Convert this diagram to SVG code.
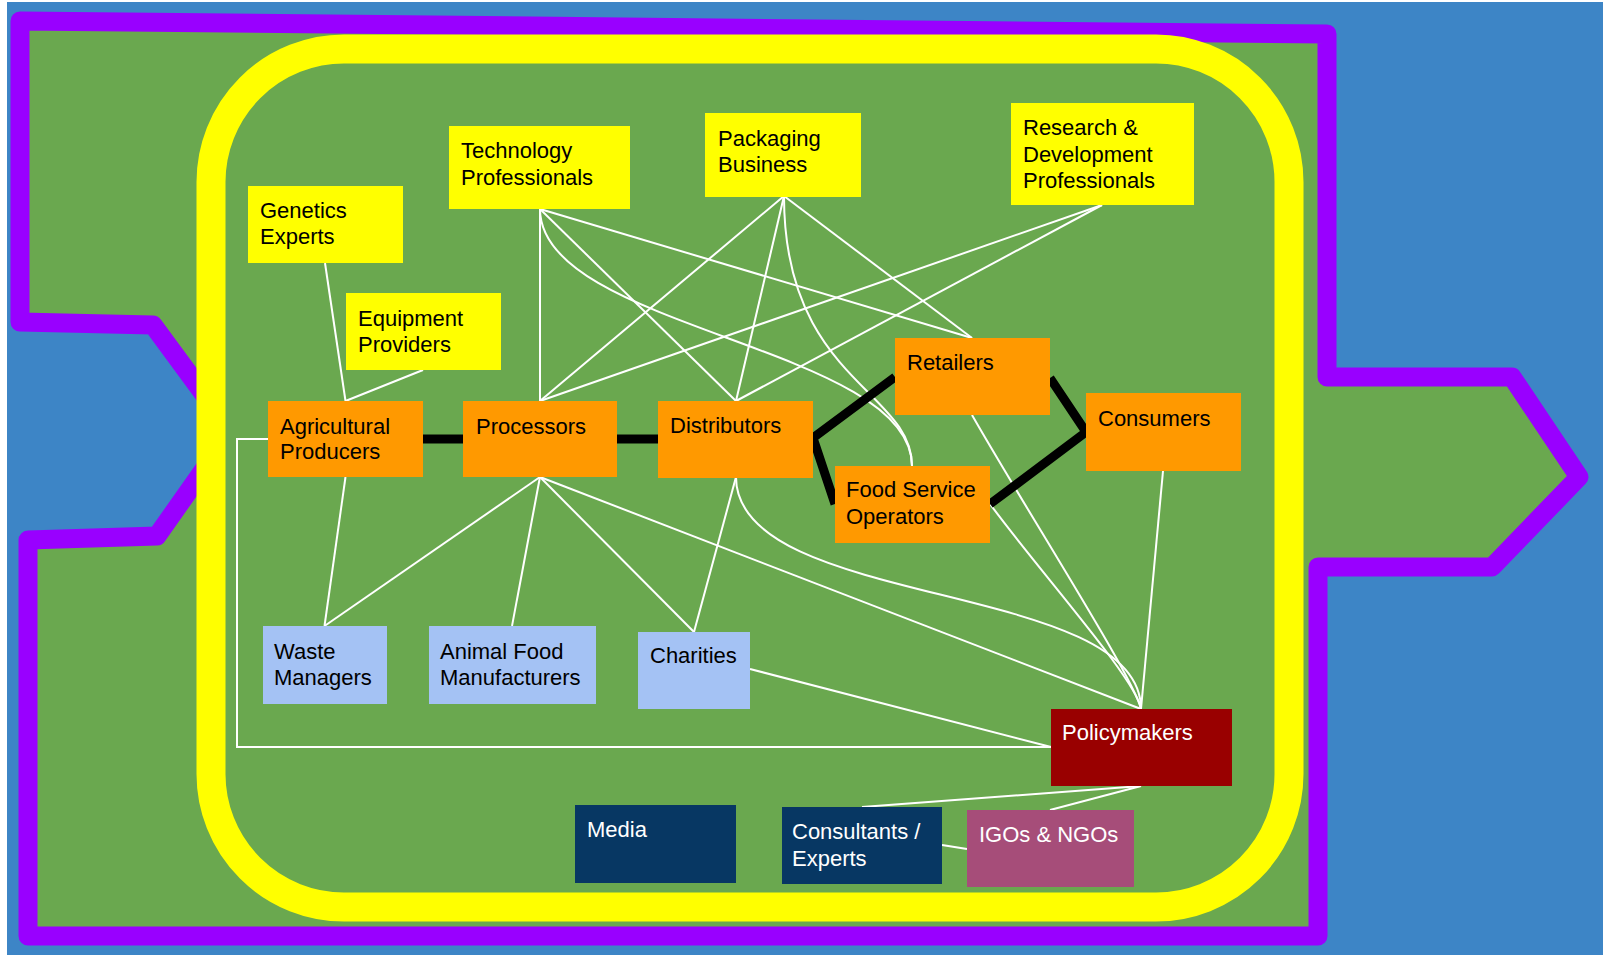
<svg xmlns="http://www.w3.org/2000/svg" width="1603" height="955" viewBox="0 0 1603 955">
<style>
.t{font-family:"Liberation Sans",Arial,sans-serif;font-size:22px;fill:#000}
.w{fill:#fff}
.c{fill:none;stroke:#fff;stroke-width:2}
.k{fill:none;stroke:#000;stroke-width:9;stroke-linejoin:miter}
.ye{fill:#ffff00}.or{fill:#ff9900}.lb{fill:#a4c2f4}.dr{fill:#990000}.nv{fill:#073763}.mv{fill:#a64d79}
</style>
<rect x="0" y="0" width="1603" height="955" fill="#ffffff"/>
<rect x="7" y="2" width="1596" height="953" fill="#3d85c6"/>
<polygon points="20,21 1327,34 1327,377 1512,377 1579,477 1492,567 1318,567 1318,936 28,936 28,540 157,536 231,431 153,325 20,322" fill="#6aa84f" stroke="#9900ff" stroke-width="19" stroke-linejoin="round"/>
<rect x="211" y="49" width="1078" height="858" rx="133" ry="133" fill="#6aa84f" stroke="#ffff00" stroke-width="29"/>
<g id="connectors">
<line class="c" x1="325" y1="263" x2="345.5" y2="401"/>
<line class="c" x1="423" y1="370" x2="345.5" y2="401"/>
<line class="c" x1="540" y1="209" x2="540" y2="401"/>
<line class="c" x1="540" y1="209" x2="736" y2="401"/>
<line class="c" x1="540" y1="209" x2="972" y2="338"/>
<path class="c" d="M540,209 C540,329 912,346 912,466"/>
<line class="c" x1="784" y1="196" x2="540" y2="401"/>
<line class="c" x1="784" y1="196" x2="736" y2="401"/>
<line class="c" x1="784" y1="196" x2="972" y2="338"/>
<path class="c" d="M784,196 C784,380 912,390 912,466"/>
<line class="c" x1="1102" y1="205" x2="540" y2="401"/>
<line class="c" x1="1102" y1="205" x2="736" y2="401"/>
<line class="c" x1="345.5" y1="477" x2="324.5" y2="626"/>
<line class="c" x1="540" y1="477" x2="324.5" y2="626"/>
<line class="c" x1="540" y1="477" x2="512" y2="626"/>
<line class="c" x1="540" y1="477" x2="694" y2="632"/>
<line class="c" x1="540" y1="477" x2="1141" y2="709"/>
<line class="c" x1="736" y1="477" x2="694" y2="632"/>
<path class="c" d="M736,477 C736,610 1141,579 1141,709"/>
<path class="c" d="M972,415 C1028,513 1134,678 1141,709"/>
<path class="c" d="M990,504 C1040,572 1137,680 1141,709"/>
<line class="c" x1="1163" y1="471" x2="1141" y2="709"/>
<line class="c" x1="750" y1="669" x2="1051" y2="747"/>
<polyline class="c" points="268,439 237,439 237,747 1051,747"/>
<line class="c" x1="1141" y1="786" x2="862" y2="807"/>
<line class="c" x1="1141" y1="786" x2="1050" y2="810"/>
<line class="c" x1="942" y1="845" x2="967" y2="849"/>
<line class="k" x1="423" y1="439" x2="463" y2="439"/>
<line class="k" x1="617" y1="439" x2="658" y2="439"/>
<polyline class="k" points="895,377 813,438 835,504"/>
<polyline class="k" points="1050,378 1086,432 990,504"/>
</g>
<g id="genetics"><rect class="ye" x="248" y="186" width="155" height="77"/><text class="t" x="260" y="218">Genetics</text><text class="t" x="260" y="244">Experts</text></g>
<g id="technology"><rect class="ye" x="449" y="126" width="181" height="83"/><text class="t" x="461" y="158">Technology</text><text class="t" x="461" y="185">Professionals</text></g>
<g id="packaging"><rect class="ye" x="705" y="113" width="156" height="84"/><text class="t" x="718" y="146">Packaging</text><text class="t" x="718" y="172">Business</text></g>
<g id="research"><rect class="ye" x="1011" y="103" width="183" height="102"/><text class="t" x="1023" y="135">Research &amp;</text><text class="t" x="1023" y="161.5">Development</text><text class="t" x="1023" y="188">Professionals</text></g>
<g id="equipment"><rect class="ye" x="346" y="293" width="155" height="77"/><text class="t" x="358" y="326">Equipment</text><text class="t" x="358" y="352">Providers</text></g>
<g id="agricultural"><rect class="or" x="268" y="401" width="155" height="76"/><text class="t" x="280" y="434">Agricultural</text><text class="t" x="280" y="459">Producers</text></g>
<g id="processors"><rect class="or" x="463" y="401" width="154" height="76"/><text class="t" x="476" y="434">Processors</text></g>
<g id="distributors"><rect class="or" x="658" y="401" width="155" height="77"/><text class="t" x="670" y="433">Distributors</text></g>
<g id="retailers"><rect class="or" x="895" y="338" width="155" height="77"/><text class="t" x="907" y="370">Retailers</text></g>
<g id="consumers"><rect class="or" x="1086" y="393" width="155" height="78"/><text class="t" x="1098" y="426">Consumers</text></g>
<g id="foodservice"><rect class="or" x="835" y="466" width="155" height="77"/><text class="t" x="846" y="497">Food Service</text><text class="t" x="846" y="523.5">Operators</text></g>
<g id="waste"><rect class="lb" x="263" y="626" width="124" height="78"/><text class="t" x="274" y="659">Waste</text><text class="t" x="274" y="685">Managers</text></g>
<g id="animalfood"><rect class="lb" x="429" y="626" width="167" height="78"/><text class="t" x="440" y="659">Animal Food</text><text class="t" x="440" y="685">Manufacturers</text></g>
<g id="charities"><rect class="lb" x="638" y="632" width="112" height="77"/><text class="t" x="650" y="663">Charities</text></g>
<g id="policymakers"><rect class="dr" x="1051" y="709" width="181" height="77"/><text class="t w" x="1062" y="740">Policymakers</text></g>
<g id="media"><rect class="nv" x="575" y="805" width="161" height="78"/><text class="t w" x="587" y="837">Media</text></g>
<g id="consultants"><rect class="nv" x="782" y="807" width="160" height="77"/><text class="t w" x="792" y="839">Consultants /</text><text class="t w" x="792" y="866">Experts</text></g>
<g id="igos"><rect class="mv" x="967" y="810" width="167" height="77"/><text class="t w" x="979" y="842">IGOs &amp; NGOs</text></g>
</svg>
